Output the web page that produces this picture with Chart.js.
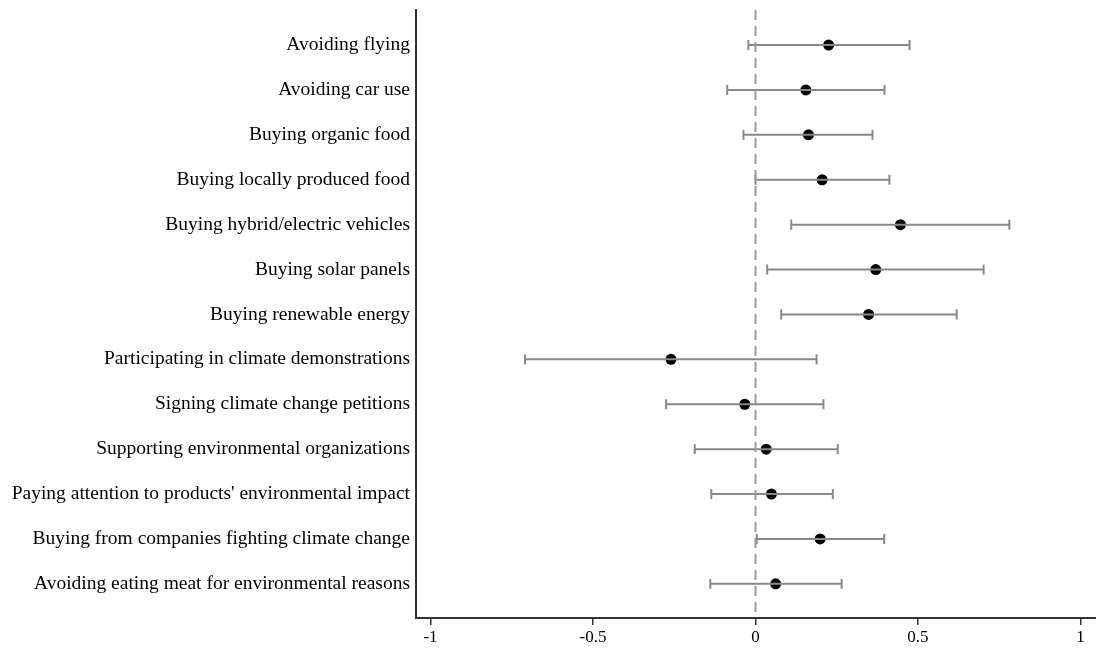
<!DOCTYPE html>
<html>
<head>
<meta charset="utf-8">
<script src="https://cdn.jsdelivr.net/npm/chart.js@4"></script>
<style>
  body { margin: 0; background: #fff; }
  #wrap { width: 1096px; height: 656px; }
</style>
</head>
<body>
<div id="wrap"><canvas id="resultat"></canvas></div>
<script>
const categories = [
    "Avoiding flying",
    "Avoiding car use",
    "Buying organic food",
    "Buying locally produced food",
    "Buying hybrid/electric vehicles",
    "Buying solar panels",
    "Buying renewable energy",
    "Participating in climate demonstrations",
    "Signing climate change petitions",
    "Supporting environmental organizations",
    "Paying attention to products' environmental impact",
    "Buying from companies fighting climate change",
    "Avoiding eating meat for environmental reasons"
];
const estimates = [0.225, 0.155, 0.163, 0.205, 0.446, 0.370, 0.348, -0.260, -0.033, 0.033, 0.049, 0.199, 0.062];
const lowerCI   = [-0.022, -0.087, -0.037, 0.000, 0.110, 0.036, 0.079, -0.709, -0.275, -0.187, -0.136, 0.004, -0.139];
const upperCI   = [0.474, 0.397, 0.360, 0.412, 0.781, 0.702, 0.619, 0.188, 0.209, 0.253, 0.238, 0.396, 0.265];
const xTicks = [-1, -0.5, 0, 0.5, 1];

const yMin = 0.22, yMax = 13.76;
const barColor = '#888888';

let datasets = [];

// dashed reference line at zero
datasets.push({
    type: 'line',
    data: [{x: 0, y: yMin}, {x: 0, y: yMax}],
    borderColor: '#9a9a9a',
    borderWidth: 2,
    borderDash: [10, 6],
    pointRadius: 0
});

// confidence intervals with caps
categories.forEach((c, i) => {
    datasets.push({
        data: [{x: lowerCI[i], y: i + 1}, {x: upperCI[i], y: i + 1}],
        showLine: true,
        borderColor: barColor,
        borderWidth: 2,
        pointStyle: 'line',
        rotation: 90,
        pointRadius: 5,
        pointBorderColor: barColor,
        pointBorderWidth: 2
    });
});

// point estimates
datasets.push({
    data: estimates.map((v, i) => ({x: v, y: i + 1})),
    backgroundColor: '#000',
    borderWidth: 0,
    pointRadius: 5.5
});

const ctx = document.getElementById('resultat').getContext('2d');
new Chart(ctx, {
    type: 'scatter',
    data: { datasets: datasets },
    options: {
        responsive: true,
        maintainAspectRatio: false,
        animation: false,
        layout: { autoPadding: false, padding: { top: 10, right: 0, left: 0, bottom: 0 } },
        plugins: { legend: { display: false }, tooltip: { enabled: false } },
        scales: {
            x: {
                type: 'linear',
                min: -1.0446,
                max: 1.0477,
                afterBuildTicks: scale => { scale.ticks = xTicks.map(v => ({value: v})); },
                afterFit: scale => { scale.height = 38; scale.paddingRight = 0; },
                grid: { drawOnChartArea: false, drawTicks: true, tickLength: 7, color: '#333', lineWidth: 1.5 },
                border: { display: true, color: '#333', width: 2 },
                ticks: {
                    color: '#000',
                    padding: 2,
                    font: { family: 'Liberation Serif', size: 17 },
                    callback: v => String(v)
                }
            },
            y: {
                type: 'linear',
                reverse: true,
                min: yMin,
                max: yMax,
                afterBuildTicks: scale => { scale.ticks = categories.map((c, i) => ({value: i + 1})); },
                afterFit: scale => { scale.width = 416; scale.paddingTop = 0; scale.paddingBottom = 0; },
                grid: { drawOnChartArea: false, drawTicks: false },
                border: { display: true, color: '#333', width: 2 },
                ticks: {
                    color: '#000',
                    padding: 6,
                    autoSkip: false,
                    font: { family: 'Liberation Serif', size: 19.5 },
                    callback: v => categories[Math.round(v) - 1]
                }
            }
        }
    }
});
</script>
</body>
</html>
